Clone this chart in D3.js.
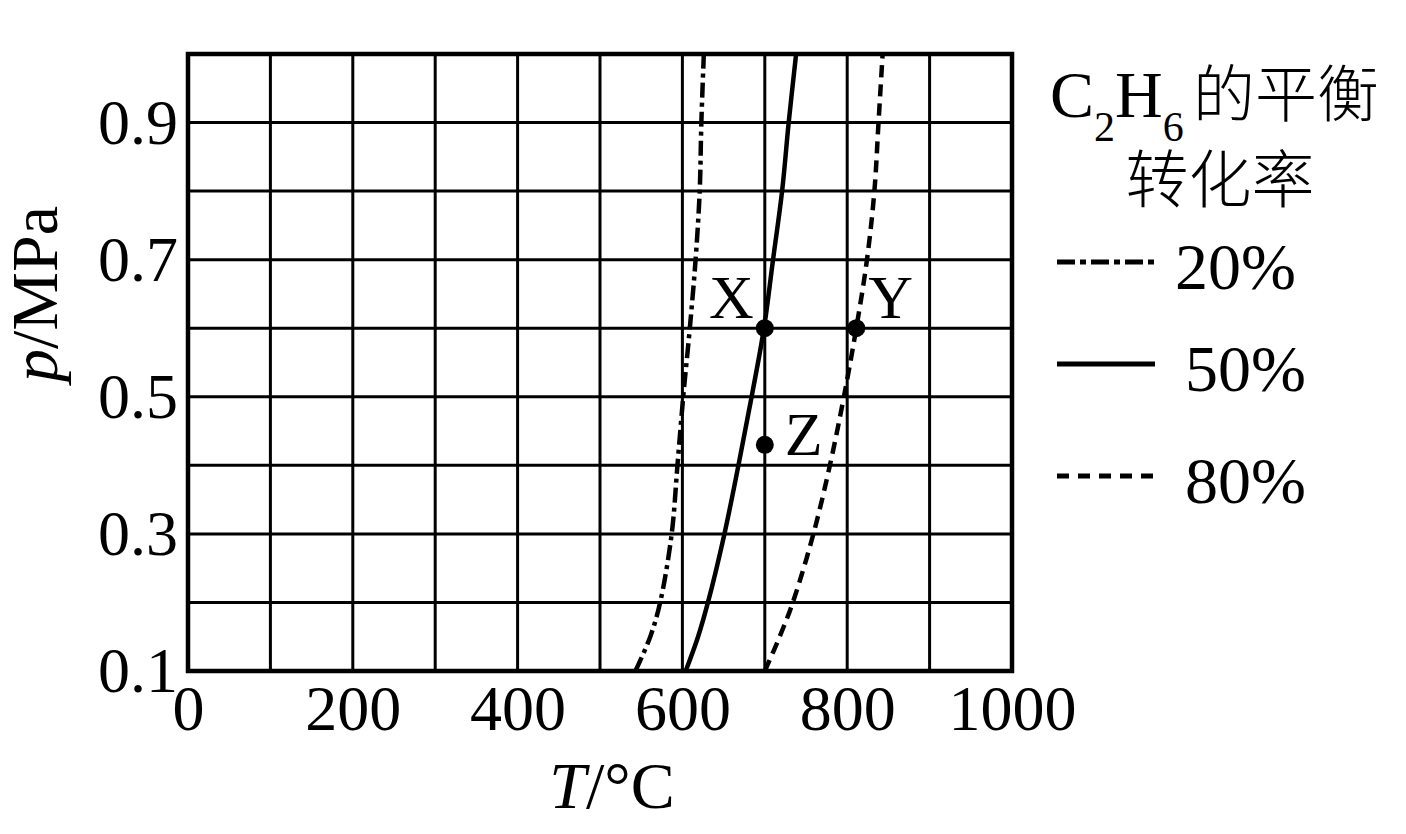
<!DOCTYPE html>
<html><head><meta charset="utf-8">
<script src="https://cdn.jsdelivr.net/npm/d3@7"></script>
<style>body{margin:0;background:#fff}svg{display:block}</style>
</head><body><svg id="c" width="1406" height="834"></svg>
<script>
// ---- data ----
const xTicks = [0, 200, 400, 600, 800, 1000];
const xGrid = [100, 200, 300, 400, 500, 600, 700, 800, 900];
const yTicks = [0.1, 0.3, 0.5, 0.7, 0.9];
const yGrid = [0.2, 0.3, 0.4, 0.5, 0.6, 0.7, 0.8, 0.9];

const seriesNames = ["20%", "50%", "80%"];
const pressure20 = [0.1, 0.15, 0.2, 0.3, 0.4, 0.5, 0.6, 0.7, 0.8, 0.9, 1.0];
const temp20     = [543, 561, 573, 587, 594, 601, 609, 616, 621, 623, 626];
const pressure50 = [0.1, 0.15, 0.2, 0.3, 0.4, 0.5, 0.6, 0.7, 0.8, 0.9, 1.0];
const temp50     = [604, 619, 631, 651, 668, 684, 699, 710, 721, 729, 738];
const pressure80 = [0.1, 0.15, 0.2, 0.3, 0.4, 0.5, 0.6, 0.7, 0.8, 0.9, 1.0];
const temp80     = [700, 718, 734, 759, 779, 796, 811, 824, 833, 838, 843];

const pointNames = ["X", "Y", "Z"];
const pointT = [700, 811, 700];
const pointP = [0.6, 0.6, 0.43];

// ---- layout ----
const svg = d3.select("#c");
const serif = "'Liberation Serif','Times New Roman',serif";
const cjkFont = "'Noto Sans CJK SC'";
const x = d3.scaleLinear().domain([0, 1000]).range([188, 1012]);
const y = d3.scaleLinear().domain([0.1, 1.0]).range([671, 54]);

// grid
const g = svg.append("g");
g.selectAll("line.vx").data(xGrid).join("line")
  .attr("x1", d => x(d)).attr("x2", d => x(d))
  .attr("y1", y(0.1)).attr("y2", y(1.0))
  .attr("stroke", "#000").attr("stroke-width", 3);
g.selectAll("line.hy").data(yGrid).join("line")
  .attr("y1", d => y(d)).attr("y2", d => y(d))
  .attr("x1", x(0)).attr("x2", x(1000))
  .attr("stroke", "#000").attr("stroke-width", 3);
// frame
g.append("rect").attr("x", x(0)).attr("y", y(1.0))
  .attr("width", x(1000) - x(0)).attr("height", y(0.1) - y(1.0))
  .attr("fill", "none").attr("stroke", "#000").attr("stroke-width", 4.5);

// axes (labels only)
const xa = svg.append("g").attr("transform", `translate(0,${y(0.1)})`)
  .call(d3.axisBottom(x).tickValues(xTicks).tickSize(0).tickPadding(14).tickFormat(d3.format("d")));
xa.select(".domain").remove();
xa.selectAll("text").attr("font-family", serif).attr("font-size", 64).attr("fill", "#000");

const ya = svg.append("g").attr("transform", `translate(${x(0)},0)`)
  .call(d3.axisLeft(y).tickValues(yTicks).tickSize(0).tickPadding(10).tickFormat(d3.format(".1f")));
ya.select(".domain").remove();
ya.selectAll("text").attr("font-family", serif).attr("font-size", 64).attr("fill", "#000");

// axis titles
const xt = svg.append("text").attr("x", 612).attr("y", 808).attr("text-anchor", "middle")
  .attr("font-family", serif).attr("font-size", 66);
xt.append("tspan").attr("font-style", "italic").text("T");
xt.append("tspan").text("/°C");

const yt = svg.append("text").attr("transform", "translate(57,294) rotate(-90)")
  .attr("text-anchor", "middle").attr("font-family", serif).attr("font-size", 66);
yt.append("tspan").attr("font-style", "italic").text("p");
yt.append("tspan").text("/MPa");

// curves
const series = [
  {name: seriesNames[0], t: temp20, p: pressure20, dash: "15,5,4,5", legDash: "18,5,6,5"},
  {name: seriesNames[1], t: temp50, p: pressure50, dash: null, legDash: null},
  {name: seriesNames[2], t: temp80, p: pressure80, dash: "12,7", legDash: "12,9"}
];
const line = d3.line().x(d => x(d[0])).y(d => y(d[1])).curve(d3.curveCatmullRom.alpha(0.5));
series.forEach(s => {
  svg.append("path").datum(s.t.map((t, i) => [t, s.p[i]]))
    .attr("d", line).attr("fill", "none").attr("stroke", "#000")
    .attr("stroke-width", 4.5).attr("stroke-dasharray", s.dash);
});

// points
const pts = pointNames.map((n, i) => ({n, t: pointT[i], p: pointP[i]}));
svg.selectAll("circle.pt").data(pts).join("circle")
  .attr("cx", d => x(d.t)).attr("cy", d => y(d.p)).attr("r", 9).attr("fill", "#000");
const lblOff = {X: [-11, -10, "end"], Y: [12, -10, "start"], Z: [20, 10, "start"]};
svg.selectAll("text.pt").data(pts).join("text")
  .attr("x", d => x(d.t) + lblOff[d.n][0]).attr("y", d => y(d.p) + lblOff[d.n][1])
  .attr("text-anchor", d => lblOff[d.n][2])
  .attr("font-family", serif).attr("font-size", 62).text(d => d.n);

// legend title
const lt = svg.append("text").attr("x", 1050).attr("y", 117).attr("font-family", serif)
  .attr("font-size", 66).attr("fill", "#000");
lt.append("tspan").text("C");
lt.append("tspan").attr("font-size", 42).attr("dy", 24).text("2");
lt.append("tspan").attr("dy", -24).text("H");
lt.append("tspan").attr("font-size", 42).attr("dy", 24).text("6");
lt.append("tspan").attr("x", 1193).attr("dy", -24).attr("font-size", 62)
  .attr("font-family", cjkFont).attr("font-weight", 300).text("的平衡");
svg.append("text").attr("x", 1220).attr("y", 202).attr("text-anchor", "middle")
  .attr("font-family", cjkFont).attr("font-weight", 300).attr("font-size", 63).text("转化率");

// legend entries
const legY = [262, 364, 476];
const legTX = [1175, 1185, 1185];
series.forEach((s, i) => {
  svg.append("line").attr("x1", 1057).attr("x2", 1155).attr("y1", legY[i]).attr("y2", legY[i])
    .attr("stroke", "#000").attr("stroke-width", 5)
    .attr("stroke-dasharray", s.legDash);
  svg.append("text").attr("x", legTX[i]).attr("y", legY[i] + 27)
    .attr("font-family", serif).attr("font-size", 66).text(s.name);
});
</script></body></html>
